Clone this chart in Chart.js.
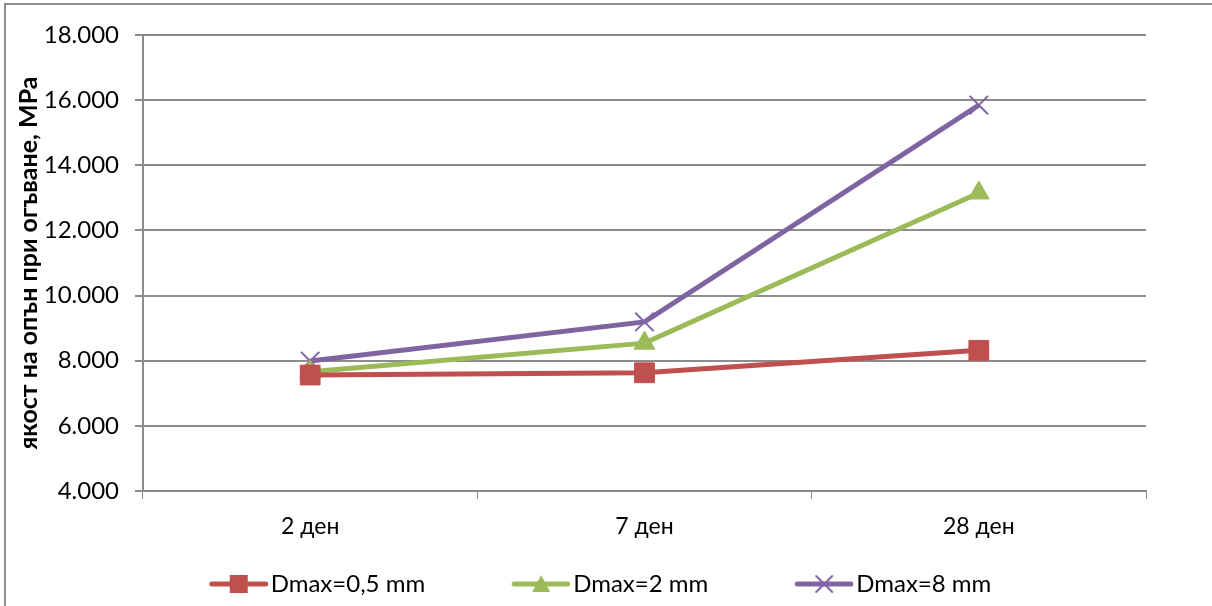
<!DOCTYPE html>
<html>
<head>
<meta charset="utf-8">
<script src="https://cdn.jsdelivr.net/npm/chart.js@4.4.1/dist/chart.umd.min.js"></script>
<style>
  html, body { margin: 0; padding: 0; background: #fff; overflow: hidden; }
  #wrap { position: relative; width: 1212px; height: 606px; overflow: hidden; }
  #frame { position: absolute; left: 4px; top: 3px; width: 1300px; height: 700px;
           border-left: 2px solid #8e8e8e; border-top: 2px solid #8e8e8e; }
  #cv { position: absolute; left: 0; top: 0; }
</style>
</head>
<body>
<div id="wrap">
  <div id="frame"></div>
  <canvas id="cv" width="1212" height="606"></canvas>
</div>
<script>
// Flexural tensile strength over curing age for three maximum aggregate sizes
const categories = ['2 ден', '7 ден', '28 ден'];
const seriesNames = ['Dmax=0,5 mm', 'Dmax=2 mm', 'Dmax=8 mm'];
const dmax05 = [7.56, 7.63, 8.32];
const dmax2 = [7.66, 8.54, 13.15];
const dmax8 = [7.99, 9.19, 15.85];
const yTitle = 'якост на опън при огъване, MPa';

const FONT = 'Lato, "Open Sans", sans-serif';
const GRID = '#8c8c8c';

const styles = [
  { color: '#C0504D', point: 'rect', radius: 14, border: 1 },
  { color: '#9BBB59', point: 'triangle', radius: 12, border: 1 },
  { color: '#8064A2', point: 'crossRot', radius: 13, border: 2 }
];

// Legend geometry: the symbol box is wide, the visible line sits at its right end
const LEG_FONT = 24;
const LEG_PAD = 32;
const LEG_BOX = 104;
const SYM_W = 2 * (LEG_BOX / 2 + 9);

// Legend symbol: short line segment with the series marker in the middle
function legendSymbol(st) {
  const c = document.createElement('canvas');
  c.width = SYM_W; c.height = 24;
  const g = c.getContext('2d');
  const x1 = SYM_W - 56, x2 = SYM_W - 2, mx = (x1 + x2) / 2;
  g.strokeStyle = st.color; g.lineWidth = 5; g.lineCap = 'round';
  g.beginPath(); g.moveTo(x1, 12); g.lineTo(x2, 12); g.stroke();
  g.fillStyle = st.color; g.strokeStyle = st.color;
  if (st.point === 'rect') {
    g.fillRect(mx - 9, 3, 18, 18);
  } else if (st.point === 'triangle') {
    g.beginPath(); g.moveTo(mx, 3); g.lineTo(mx + 9, 20); g.lineTo(mx - 9, 20); g.closePath(); g.fill();
  } else {
    g.lineWidth = 2;
    g.beginPath(); g.moveTo(mx - 8, 4); g.lineTo(mx + 8, 20); g.moveTo(mx + 8, 4); g.lineTo(mx - 8, 20); g.stroke();
  }
  return c;
}

const seriesData = [dmax05, dmax2, dmax8];
const datasets = seriesData.map((d, i) => ({
  label: seriesNames[i],
  data: d,
  borderColor: styles[i].color,
  backgroundColor: styles[i].color,
  borderWidth: 5,
  pointStyle: styles[i].point,
  pointRadius: styles[i].radius,
  pointHoverRadius: styles[i].radius,
  pointBorderWidth: styles[i].border,
  pointBackgroundColor: styles[i].color,
  pointBorderColor: styles[i].color,
  tension: 0
}));

new Chart(document.getElementById('cv'), {
  type: 'line',
  data: { labels: categories, datasets },
  options: {
    responsive: false,
    animation: false,
    devicePixelRatio: 1,
    layout: { padding: { left: 0, right: 66, top: 35, bottom: 0 } },
    plugins: {
      tooltip: { enabled: false },
      legend: {
        position: 'bottom',
        labels: {
          usePointStyle: true,
          pointStyleWidth: LEG_BOX,
          boxHeight: 24,
          padding: LEG_PAD,
          color: '#000',
          font: { family: FONT, size: LEG_FONT },
          generateLabels(chart) {
            return chart.data.datasets.map((ds, i) => ({
              text: ds.label,
              fillStyle: ds.borderColor,
              strokeStyle: ds.borderColor,
              lineWidth: 0,
              pointStyle: legendSymbol(styles[i]),
              datasetIndex: i,
              hidden: false
            }));
          }
        }
      }
    },
    scales: {
      x: {
        offset: true,
        grid: { display: true, offset: true, drawOnChartArea: false, drawTicks: true,
                tickLength: 8, color: GRID, lineWidth: 1 },
        border: { display: true, color: GRID, width: 2 },
        ticks: { color: '#000', font: { family: FONT, size: 23 }, padding: 14 },
        afterFit(scale) { scale.height = 81 - LEG_PAD; }
      },
      y: {
        min: 4, max: 18,
        grid: { color: GRID, lineWidth: 2, tickLength: 8, drawTicks: true },
        border: { display: true, color: GRID, width: 2 },
        title: { display: true, text: yTitle, color: '#000',
                 font: { family: FONT, size: 25, weight: 'bold' }, padding: { top: 14, bottom: 4 } },
        ticks: {
          stepSize: 2, color: '#000', padding: 16,
          font: { family: FONT, size: 24 },
          callback: v => v.toFixed(3)
        },
        afterFit(scale) { scale.width = 143; }
      }
    }
  }
});
</script>
</body>
</html>
